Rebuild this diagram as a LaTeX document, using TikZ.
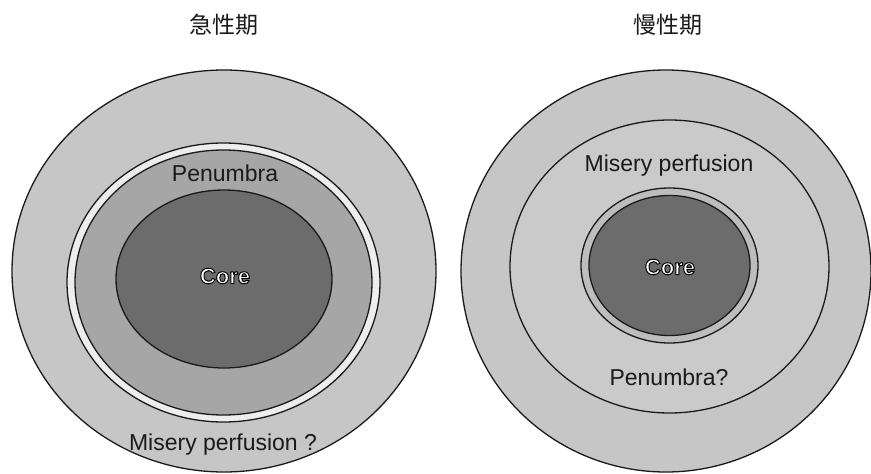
\documentclass[tikz,border=0pt]{standalone}
\usepackage{fontspec}
\setmainfont{Liberation Sans}
\newfontfamily\cjk{Noto Sans CJK JP}
\definecolor{outerg}{HTML}{C6C6C6}
\definecolor{midg}{HTML}{CACACA}
\definecolor{penug}{HTML}{A6A6A6}
\definecolor{coreg}{HTML}{6C6C6C}
\definecolor{bandw}{HTML}{EDEDED}
\definecolor{bandg}{HTML}{BDBDBD}
\definecolor{inkc}{HTML}{1A1A1A}
\newcommand{\outlinedtext}[1]{\special{pdf:literal direct 2 Tr 1.0 w 1 j 0 G 1 g}#1\special{pdf:literal direct 0 Tr}}
\tikzset{
  zone/.style={draw=inkc, line width=1.3pt},
  lbl/.style={inner sep=0pt, text=inkc, font=\fontsize{23}{26}\selectfont},
  ttl/.style={inner sep=0pt, text=inkc, font=\cjk\fontsize{23}{26}\selectfont},
  corelbl/.style={inner sep=0pt, text=white, font=\bfseries\fontsize{22}{26}\selectfont}
}
\begin{document}
\begin{tikzpicture}[x=1pt,y=-1pt]
\useasboundingbox (0,0) rectangle (871,474);
\fill[white] (0,0) rectangle (871,474);
\begin{scope}
\clip (0,0) rectangle (871,474);
% ---------- left: acute phase ----------
\draw[zone, fill=outerg] (224,271) ellipse [x radius=212pt, y radius=201pt];
\draw[zone, fill=bandw] (223.5,282.5) ellipse [x radius=156.5pt, y radius=139.5pt];
\draw[zone, fill=penug] (223.5,282.5) ellipse [x radius=148.5pt, y radius=132.5pt];
\draw[zone, fill=coreg] (224,279) ellipse [x radius=108pt, y radius=89pt];
% ---------- right: chronic phase ----------
\draw[zone, fill=outerg] (666,271) ellipse [x radius=205pt, y radius=201pt];
\draw[zone, fill=midg] (669.5,266.5) ellipse [x radius=159.5pt, y radius=146.5pt];
\draw[zone, fill=bandg] (669.5,265.5) ellipse [x radius=88.5pt, y radius=77.5pt];
\draw[zone, fill=coreg] (669.5,265.5) ellipse [x radius=80.5pt, y radius=70pt];
\end{scope}
% ---------- titles ----------
\node[ttl] (tA) at (224,25) {急性期};
\node[ttl] (tC) at (668,25) {慢性期};
% ---------- labels ----------
\node[lbl] (penA) at (225,173) {Penumbra};
\node[lbl] (misA) at (223,445) {Misery perfusion ?};
\node[lbl] (misC) at (669,166) {Misery perfusion};
\node[lbl] (penC) at (669,377) {Penumbra?};
\node[corelbl] (coreA) at (225,276) {\outlinedtext{Core}};
\node[corelbl] (coreC) at (670,267) {\outlinedtext{Core}};
\end{tikzpicture}
\end{document}
